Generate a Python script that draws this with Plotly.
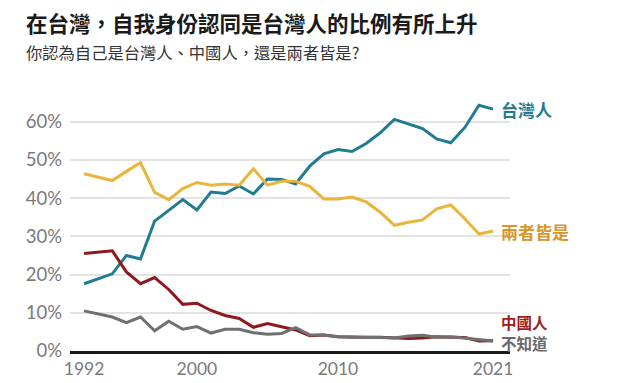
import plotly.graph_objects as go

years = [1992, 1994, 1995, 1996, 1997, 1998, 1999, 2000, 2001, 2002, 2003, 2004, 2005,
         2006, 2007, 2008, 2009, 2010, 2011, 2012, 2013, 2014, 2015, 2016, 2017, 2018,
         2019, 2020, 2021]
taiwanese = [17.6, 20.2, 25.0, 24.1, 34.0, 36.9, 39.6, 36.9, 41.6, 41.2, 43.2, 41.1, 45.0,
             44.9, 43.7, 48.4, 51.6, 52.7, 52.2, 54.3, 57.1, 60.6, 59.5, 58.2, 55.5, 54.5,
             58.5, 64.3, 63.3]
both = [46.4, 44.6, 47.0, 49.3, 41.5, 39.6, 42.5, 44.1, 43.4, 43.7, 43.4, 47.7, 43.4,
        44.4, 44.4, 43.1, 39.8, 39.8, 40.3, 39.0, 36.3, 32.9, 33.7, 34.3, 37.2, 38.2,
        34.6, 30.6, 31.4]
chinese = [25.5, 26.2, 20.7, 17.6, 19.2, 16.1, 12.2, 12.5, 10.6, 9.3, 8.5, 6.2, 7.2,
           6.4, 5.5, 4.0, 4.2, 3.7, 3.6, 3.6, 3.6, 3.5, 3.3, 3.4, 3.7, 3.6, 3.5, 2.6, 2.7]
no_response = [10.5, 8.9, 7.4, 8.9, 5.3, 7.8, 5.7, 6.4, 4.7, 5.7, 5.7, 4.8, 4.4,
               4.6, 6.1, 4.2, 4.2, 3.7, 3.6, 3.6, 3.5, 3.4, 3.9, 4.1, 3.6, 3.7, 3.3, 3.0, 2.6]

series_names = ["台灣人", "兩者皆是", "中國人", "不知道"]
series_values = [taiwanese, both, chinese, no_response]
line_colors = ["#1f7c93", "#ebb43a", "#8e1a1f", "#707070"]
label_colors = ["#1f7c93", "#d8952a", "#a01c22", "#6a6a6a"]
label_yshift = [0, 0, 19, -2]
label_sizes = [17, 17, 15.5, 15.5]

tick_years = [1992, 2000, 2010, 2021]
y_ticks = [0, 10, 20, 30, 40, 50, 60]
y_tick_text = [f"{v}%" for v in y_ticks]

title_text = "在台灣，自我身份認同是台灣人的比例有所上升"
subtitle_text = "你認為自己是台灣人、中國人，還是兩者皆是?"

cjk = "Noto Sans CJK TC, Noto Sans CJK SC, sans-serif"

fig = go.Figure()
for name, vals, col in zip(series_names, series_values, line_colors):
    fig.add_trace(go.Scatter(x=years, y=vals, mode="lines", name=name,
                             line=dict(color=col, width=3), hoverinfo="skip"))

for name, vals, col, ys, fs in zip(series_names, series_values, label_colors, label_yshift, label_sizes):
    fig.add_annotation(x=years[-1], y=vals[-1], xref="x", yref="y", text=f"<b>{name}</b>",
                       showarrow=False, xanchor="left", yanchor="middle", xshift=7, yshift=ys,
                       borderpad=0, font=dict(family=cjk, size=fs, color=col))

fig.add_annotation(x=0, y=1, xref="paper", yref="paper", text=f"<b>{title_text}</b>",
                   showarrow=False, xanchor="left", yanchor="middle", xshift=-46, yshift=76,
                   font=dict(family=cjk, size=21.5, color="#1a1a1a"))
fig.add_annotation(x=0, y=1, xref="paper", yref="paper", text=subtitle_text,
                   showarrow=False, xanchor="left", yanchor="middle", xshift=-46, yshift=46,
                   font=dict(family=cjk, size=16.3, color="#333333"))

fig.update_layout(
    width=640, height=383,
    margin=dict(l=62, r=138, t=90, b=33),
    paper_bgcolor="white", plot_bgcolor="white",
    showlegend=False,
    xaxis=dict(range=[1991.0, 2022.2], tickvals=tick_years, ticktext=[str(t) for t in tick_years],
               showgrid=False, zeroline=False, showline=True, linecolor="#1a1a1a", linewidth=2.5,
               ticks="", tickfont=dict(family="Lato, sans-serif", size=17.5, color="#7a7a7a")),
    yaxis=dict(range=[0, 66.2], tickvals=y_ticks, ticktext=y_tick_text,
               showgrid=True, gridcolor="#e3e3e3", gridwidth=1.5, zeroline=False,
               ticks="", ticklabelstandoff=7,
               tickfont=dict(family="Lato, sans-serif", size=18.5, color="#7a7a7a")),
)

fig.write_html("out.html")
